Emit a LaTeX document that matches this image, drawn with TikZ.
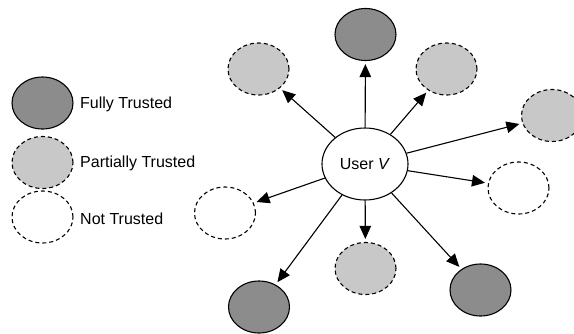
\documentclass[tikz,border=0pt]{standalone}
\usepackage{fontspec}
\setmainfont{Liberation Sans}
\usetikzlibrary{shapes.geometric,arrows.meta}
\definecolor{fullgray}{RGB}{140,140,140}
\definecolor{partgray}{RGB}{200,200,200}
\tikzset{
  peer/.style={ellipse,draw=black,line width=1.1pt,minimum width=61pt,minimum height=52pt,inner sep=0pt},
  fully/.style={peer,fill=fullgray},
  partial/.style={peer,fill=partgray,dash pattern=on 4pt off 3pt},
  untrusted/.style={peer,fill=white,dash pattern=on 4pt off 3pt},
  user/.style={ellipse,draw=black,line width=1.1pt,fill=white,minimum width=86pt,minimum height=72pt,inner sep=0pt,font=\fontsize{16}{19}\selectfont},
  legendtext/.style={anchor=west,inner sep=0pt,font=\fontsize{16}{19}\selectfont},
  trust/.style={line width=1.1pt,-{Triangle[length=13pt,width=11.5pt]},shorten >=3pt}
}
\begin{document}
\begin{tikzpicture}[x=1pt,y=-1pt]
\useasboundingbox (0,0) rectangle (574,333);

% legend
\node[fully]     (lf) at (42.5,103) {};
\node[partial]   (lp) at (42.5,162.5) {};
\node[untrusted] (ln) at (42.5,217) {};
\node[legendtext] (tf) at (80,104) {Fully Trusted};
\node[legendtext] (tp) at (80,163) {Partially Trusted};
\node[legendtext] (tn) at (80,219) {Not Trusted};

% central user and the users it rates
\node[user] (u) at (365,164) {User \textit{V}};
\node[fully]     (n1) at (365.5,34.5) {};
\node[partial]   (n2) at (258.5,69) {};
\node[partial]   (n3) at (446.5,69) {};
\node[partial]   (n4) at (552,115.5) {};
\node[untrusted] (n5) at (518.5,188) {};
\node[untrusted] (n6) at (225,213) {};
\node[partial]   (n7) at (365.5,268.5) {};
\node[fully]     (n8) at (259,307) {};
\node[fully]     (n9) at (480.5,290) {};

\foreach \t in {n1,n2,n3,n4,n5,n6,n7,n8,n9}
  \draw[trust] (u) -- (\t);
\end{tikzpicture}
\end{document}
